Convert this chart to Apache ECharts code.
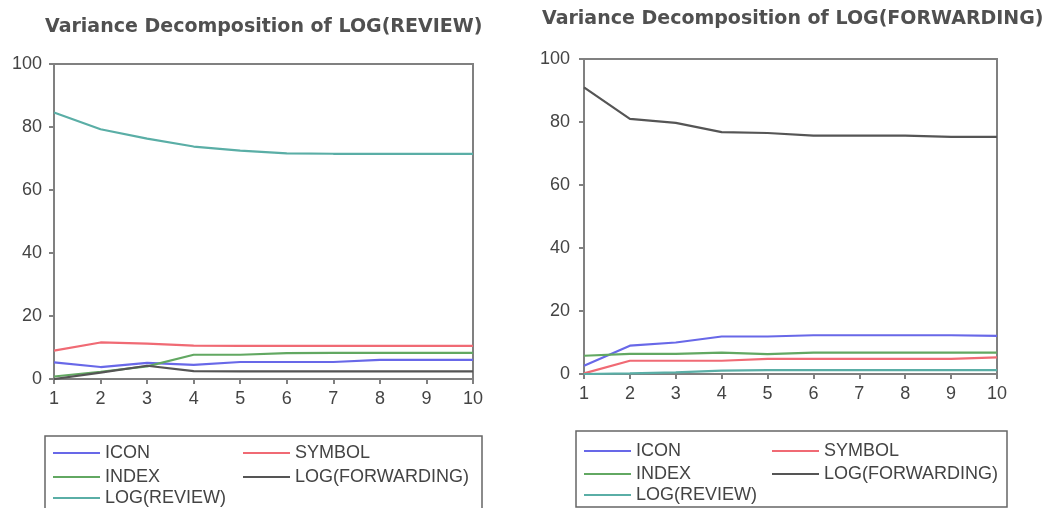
<!DOCTYPE html>
<html>
<head>
<meta charset="utf-8">
<script src="https://cdn.jsdelivr.net/npm/echarts@6/dist/echarts.min.js"></script>
<style>html,body{margin:0;padding:0;background:#fff;}#c{width:1057px;height:508px;}</style>
</head>
<body>
<div id="c"></div>
<script>
const steps = [1, 2, 3, 4, 5, 6, 7, 8, 9, 10];
const yTicks = [0, 20, 40, 60, 80, 100];
const seriesNames = ['ICON', 'SYMBOL', 'INDEX', 'LOG(FORWARDING)', 'LOG(REVIEW)'];
const titles = ['Variance Decomposition of LOG(REVIEW)', 'Variance Decomposition of LOG(FORWARDING)'];

// Panel 1: Variance Decomposition of LOG(REVIEW)
const reviewIcon = [5.3, 3.8, 5.1, 4.5, 5.4, 5.4, 5.4, 6.1, 6.1, 6.1];
const reviewSymbol = [9.0, 11.6, 11.2, 10.6, 10.5, 10.5, 10.5, 10.5, 10.5, 10.5];
const reviewIndex = [0.8, 2.3, 4.0, 7.7, 7.7, 8.2, 8.3, 8.3, 8.3, 8.3];
const reviewForwarding = [0.0, 2.0, 4.2, 2.5, 2.4, 2.4, 2.4, 2.4, 2.4, 2.4];
const reviewReview = [84.6, 79.3, 76.3, 73.8, 72.5, 71.6, 71.5, 71.5, 71.5, 71.5];

// Panel 2: Variance Decomposition of LOG(FORWARDING)
const fwdIcon = [2.6, 9.0, 10.0, 11.9, 11.9, 12.3, 12.3, 12.3, 12.3, 12.1];
const fwdSymbol = [0.2, 4.2, 4.2, 4.2, 4.8, 4.8, 4.8, 4.8, 4.8, 5.3];
const fwdIndex = [5.8, 6.4, 6.4, 6.8, 6.3, 6.8, 6.8, 6.8, 6.8, 6.8];
const fwdForwarding = [91.0, 81.0, 79.7, 76.8, 76.5, 75.7, 75.7, 75.7, 75.3, 75.3];
const fwdReview = [0.0, 0.2, 0.5, 1.1, 1.2, 1.2, 1.2, 1.2, 1.2, 1.2];

const colors = ['#6868e8', '#f06a74', '#62a862', '#555555', '#5aaea6'];
const FONT = '"Liberation Sans", Arial, sans-serif';

const panels = [
  [reviewIcon, reviewSymbol, reviewIndex, reviewForwarding, reviewReview],
  [fwdIcon, fwdSymbol, fwdIndex, fwdForwarding, fwdReview]
];

const grids = [
  {left: 54, right: 1057 - 473, top: 64, bottom: 508 - 379},
  {left: 584, right: 1057 - 997, top: 59, bottom: 508 - 374}
];

const axisLine = {show: true, lineStyle: {color: '#808080', width: 2}};
const axisLabel = {color: '#444', fontSize: 18, fontFamily: FONT};

const xAxes = grids.map((g, i) => ({
  type: 'value', gridIndex: i, min: 1, max: 10, interval: 1,
  axisLine: axisLine, axisTick: {show: true, length: 5, lineStyle: {color: '#808080', width: 2}},
  axisLabel: Object.assign({margin: 11}, axisLabel), splitLine: {show: false}
}));
const yAxes = grids.map((g, i) => ({
  type: 'value', gridIndex: i, min: yTicks[0], max: yTicks[yTicks.length - 1], interval: 20,
  axisLine: axisLine, axisTick: {show: true, length: 5, lineStyle: {color: '#808080', width: 2}},
  axisLabel: Object.assign({margin: i === 0 ? 12 : 14}, axisLabel), splitLine: {show: false}
}));

const series = [];
panels.forEach((vals, p) => {
  vals.forEach((arr, k) => {
    series.push({
      name: seriesNames[k], type: 'line', xAxisIndex: p, yAxisIndex: p,
      data: steps.map((s, j) => [s, arr[j]]),
      showSymbol: false, symbol: 'none',
      lineStyle: {color: colors[k], width: 2.2},
      itemStyle: {color: colors[k]},
      z: k === 3 ? 3 : 2
    });
  });
});

// Legend positions: [lineStartX, rowCenterY] for each series, per panel
const legendPos = [
  [[53, 453], [243, 453], [53, 477], [243, 477], [53, 498]],
  [[584, 451], [772, 451], [584, 474], [772, 474], [584, 495]]
];
const legends = [];
legendPos.forEach(panel => {
  panel.forEach((pos, k) => {
    legends.push({
      data: [seriesNames[k]], left: pos[0], top: pos[1] - 9, padding: 0,
      itemWidth: 47, itemHeight: 2, icon: 'rect', selectedMode: false,
      itemStyle: {color: colors[k]},
      textStyle: {color: '#444', fontSize: 18, fontFamily: FONT, lineHeight: 18}
    });
  });
});

const titleStyle = {color: '#505050', fontSize: 19, fontWeight: 'bold', fontFamily: '"DejaVu Sans", sans-serif'};

const option = {
  animation: false,
  backgroundColor: '#fff',
  title: [
    {text: titles[0], left: 45, top: 18, padding: 0, textStyle: titleStyle},
    {text: titles[1], left: 542, top: 10, padding: 0, textStyle: titleStyle}
  ],
  grid: grids.map(g => Object.assign({show: true, borderColor: '#808080', borderWidth: 2, containLabel: false}, g)),
  xAxis: xAxes,
  yAxis: yAxes,
  legend: legends,
  graphic: [
    {type: 'rect', shape: {x: 45, y: 436, width: 437, height: 90}, style: {fill: 'none', stroke: '#666', lineWidth: 1.5}, z: -1},
    {type: 'rect', shape: {x: 576, y: 431, width: 431, height: 76}, style: {fill: 'none', stroke: '#666', lineWidth: 1.5}, z: -1}
  ],
  series: series
};

const chart = echarts.init(document.getElementById('c'), null, {renderer: 'canvas'});
chart.setOption(option);
</script>
</body>
</html>
